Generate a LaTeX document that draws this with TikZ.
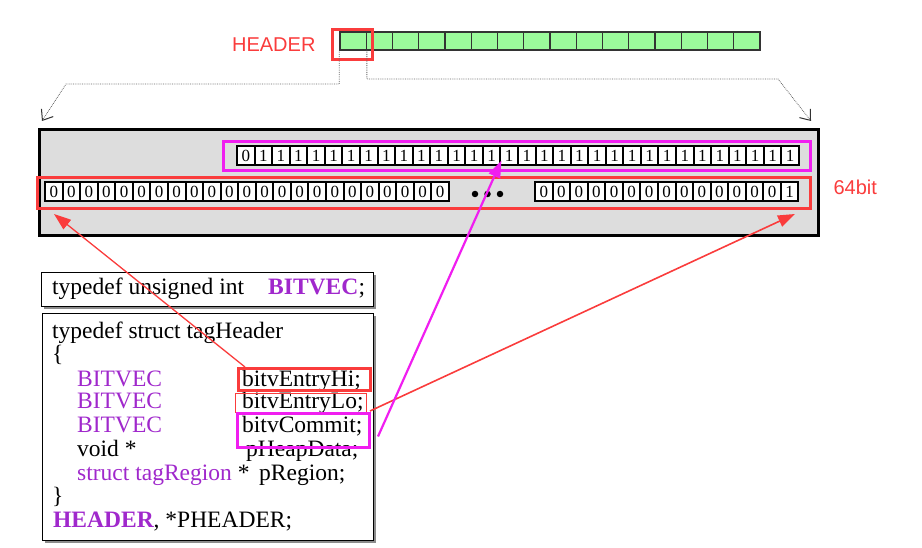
\documentclass[tikz,border=0pt]{standalone}
\usepackage{fontspec}
\setmainfont{Liberation Serif}
\newfontfamily\labelfont{Liberation Sans}
\usetikzlibrary{positioning,arrows.meta,shadows}
\definecolor{hdrred}{RGB}{250,60,60}
\definecolor{hdrpink}{RGB}{240,30,240}
\definecolor{codepurple}{RGB}{160,40,204}
\definecolor{cellgreen}{RGB}{155,250,155}
\definecolor{panelgray}{RGB}{221,221,221}

\begin{document}
\begin{tikzpicture}[x=1pt,y=-1pt,
  gcell/.style={draw=black!80,line width=1.3pt,fill=cellgreen,minimum width=26.25pt,minimum height=18pt,inner sep=0pt},
  bit/.style={draw,line width=2pt,fill=white,minimum width=17.56pt,minimum height=19pt,inner sep=0pt,font=\fontsize{17}{17}\selectfont},
  code/.style={anchor=base west,inner sep=0pt,font=\fontsize{23.5}{24}\selectfont},
  kw/.style={code,text=codepurple},
  codebox/.style={draw,line width=1.2pt,fill=white,anchor=north west,drop shadow={shadow xshift=2.5pt,shadow yshift=-2.5pt,fill=black!45,opacity=1}},
  hlbox/.style={draw=#1,line width=3pt,anchor=north west,inner sep=0pt},
  rowbox/.style={draw=#1,line width=3pt,anchor=north west,inner sep=0pt},
  dotline/.style={densely dotted,draw=black!60,line width=0.8pt,-{Straight Barb[length=9pt,width=14pt,line width=1pt,color=black!80]}},
  ptr/.style={line width=1.6pt,-{Triangle[length=17pt,width=12pt]}}]
\useasboundingbox (0,0) rectangle (922,548);

\foreach \i in {0,...,15}
  \node[gcell] (g\i) at (353.1+26.25*\i,41) {};
\node[hlbox=hdrred,minimum width=40pt,minimum height=30pt] (hdrbox) at (331,28) {};
\node[left=12pt of hdrbox,text=hdrred,font=\labelfont\fontsize{20}{20}\selectfont] (hdrlabel) {HEADER};

\node[draw,line width=3pt,fill=panelgray,anchor=north west,minimum width=779pt,minimum height=106pt,inner sep=0pt,
  drop shadow={shadow xshift=1.5pt,shadow yshift=-1.5pt,fill=black!35,opacity=1}] (panel) at (38,128) {};

\coordinate (lbend) at (66,84);
\coordinate (rbend) at (778,79);
\draw[dotline] (g0.south west) |- (lbend) -- ([xshift=4pt,yshift=7pt]panel.north west);
\draw[dotline] (g0.south east) |- (rbend) -- ([xshift=-9pt,yshift=7pt]panel.north east);

\node[rowbox=hdrpink,minimum width=587pt,minimum height=29pt] (highrow) at (222,140) {};
\node[rowbox=hdrred,minimum width=773pt,minimum height=31pt] (lowrow) at (36,176) {};

\foreach \i [evaluate=\i as \b using {int(\i>0)}] in {0,...,31}
  \node[bit] (hb\i) at (245.8+17.56*\i,156) {\b};
\foreach \i in {0,...,22}
  \node[bit] (la\i) at (53.8+17.56*\i,191.5) {0};
\foreach \i [evaluate=\i as \b using {int(\i==14)}] in {0,...,14}
  \node[bit] (lb\i) at (543.8+17.56*\i,191.5) {\b};
\foreach \i in {0,1,2}
  \node[circle,fill,inner sep=0pt,minimum size=6.5pt] (dot\i) at (475+12.5*\i,194) {};

\node[right=18pt of lowrow,yshift=6pt,text=hdrred,font=\labelfont\fontsize{20}{20}\selectfont] (bitlabel) {64bit};

\node[codebox,minimum width=332pt,minimum height=34pt] (typebox) at (41,272) {};
\node[codebox,minimum width=331pt,minimum height=227pt] (structbox) at (42,313) {};

\node[code] (t1) at (52,295) {typedef unsigned int};
\node[kw,font=\fontsize{23.5}{24}\selectfont\bfseries] (t2) at (268,295) {BITVEC};
\node[code,right=0pt of t2.base east,anchor=base west] (t3) {;};

\node[code] (s1) at (52,338) {typedef struct tagHeader};
\node[code] (s2) at (52,362) {\{};
\node[kw] (s3) at (77,386) {BITVEC};
\node[code] (hi) at (242,386) {bitvEntryHi;};
\node[kw] (s4) at (77,409) {BITVEC};
\node[code] (lo) at (242,409) {bitvEntryLo;};
\node[kw] (s5) at (77,432) {BITVEC};
\node[code] (commit) at (242,432) {bitvCommit;};
\node[code] (s6) at (77,456) {void *};
\node[code] (heap) at (246,456) {pHeapData;};
\node[code] (s7) at (77,480) {\textcolor{codepurple}{struct tagRegion} *};
\node[code] (region) at (259,480) {pRegion;};
\node[code] (s8) at (52,503) {\}};
\node[code] (s9) at (53,527) {\textcolor{codepurple}{\bfseries HEADER}, *PHEADER;};

\node[hlbox=hdrred,minimum width=132pt,minimum height=22pt] (hibox) at (237,367) {};
\node[hlbox=hdrred,line width=1pt,minimum width=131pt,minimum height=19pt] (lobox) at (235,393) {};
\node[hlbox=hdrpink,minimum width=132pt,minimum height=34pt] (commitbox) at (236,412) {};

\draw[ptr,hdrred,line width=1.3pt] ([xshift=8pt]hibox.north west) -- ([xshift=18pt,yshift=-4pt]lowrow.south west);
\draw[ptr,hdrred] ([xshift=3pt,yshift=2pt]lobox.south east) -- ([xshift=-17pt,yshift=-4pt]lowrow.south east);
\draw[ptr,hdrpink,line width=2.2pt] ([xshift=7pt,yshift=-6pt]commitbox.east) -- ([xshift=2pt,yshift=6pt]hb15.south west);
\end{tikzpicture}
\end{document}
